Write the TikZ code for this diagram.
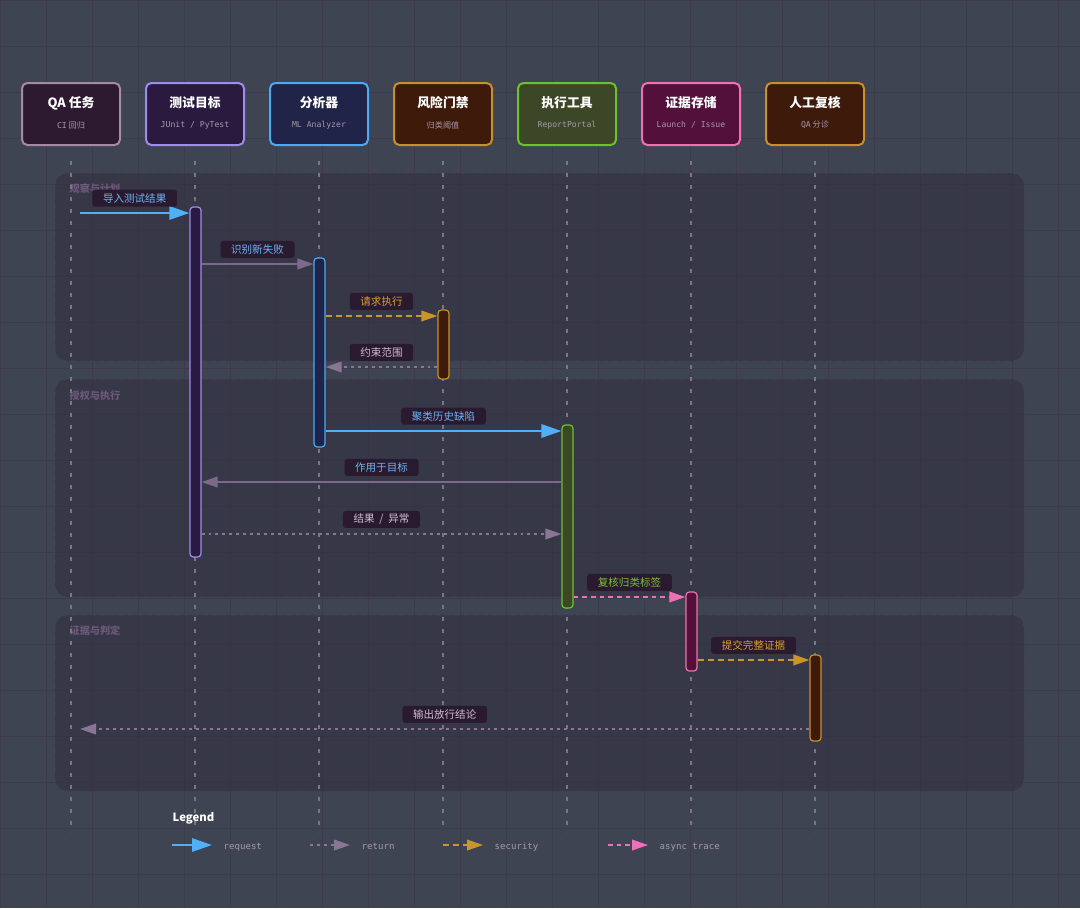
\documentclass[tikz,border=0pt]{standalone}
\usepackage{fontspec}
\setmainfont{Noto Sans CJK SC}
\setmonofont{DejaVu Sans Mono}
\usepackage{xcolor}
\usetikzlibrary{arrows.meta, positioning}

\definecolor{bg}{HTML}{3E4452}
\definecolor{gridc}{HTML}{3B3B4B}
\definecolor{grpfill}{HTML}{2E2A3C}
\definecolor{grpline}{HTML}{5A3D5E}
\definecolor{grptext}{HTML}{6C5878}
\definecolor{lifegray}{HTML}{7A7682}
\definecolor{subgray}{HTML}{A898AB}
\definecolor{lblfill}{HTML}{2A1A30}
% participant colours
\definecolor{qaF}{HTML}{2E1A30}\definecolor{qaD}{HTML}{A58AA8}
\definecolor{tgF}{HTML}{2A1A40}\definecolor{tgD}{HTML}{9F8CF0}
\definecolor{anF}{HTML}{1F2448}\definecolor{anD}{HTML}{4AAAF5}
\definecolor{gtF}{HTML}{3D1A0A}\definecolor{gtD}{HTML}{C8902A}
\definecolor{exF}{HTML}{3C4727}\definecolor{exD}{HTML}{6CC22A}
\definecolor{evF}{HTML}{52103A}\definecolor{evD}{HTML}{F070B0}
\definecolor{rvF}{HTML}{3D1A0A}\definecolor{rvD}{HTML}{C8902A}
% message colours
\definecolor{reqblue}{HTML}{4FB0F5}
\definecolor{callgray}{HTML}{7D6A8A}
\definecolor{secgold}{HTML}{C8962A}
\definecolor{retgray}{HTML}{8A7595}
\definecolor{asyncpink}{HTML}{F070B8}
\definecolor{txblue}{HTML}{6AB6F2}
\definecolor{txgold}{HTML}{D8A030}
\definecolor{txpale}{HTML}{D0BCD4}
\definecolor{txgreen}{HTML}{7AC030}

\begin{document}
\begin{tikzpicture}[
    x=0.75pt, y=-0.75pt,
    actor/.style={line width=1.5pt, rounded corners=4pt,
                  minimum width=73.5pt, minimum height=46.5pt},
    ttl/.style={font=\fontsize{9.6}{11}\selectfont\bfseries, text=white},
    sub/.style={font=\fontsize{6.1}{7}\selectfont, text=subgray},
    life/.style={draw=lifegray, line width=0.8pt, dash pattern=on 3pt off 6pt},
    act/.style={line width=0.9pt, rounded corners=2.5pt, minimum width=8.25pt},
    grp/.style={fill=grpfill, fill opacity=0.45, draw=grpline, draw opacity=0.7,
                dash pattern=on 4pt off 3pt, rounded corners=9pt},
    glbl/.style={font=\fontsize{7.6}{9}\selectfont\bfseries, text=grptext, anchor=west},
    lbl/.style={fill=lblfill, rounded corners=2pt, font=\fontsize{7.9}{9}\selectfont,
                inner xsep=8pt, inner ysep=0pt, minimum height=12.75pt},
    req/.style={draw=reqblue, line width=1.5pt,
                -{Triangle[length=15pt, width=10pt]}},
    call/.style={draw=callgray, line width=1.1pt,
                 -{Triangle[length=12pt, width=8pt]}},
    sec/.style={draw=secgold, line width=1.1pt, dash pattern=on 4.5pt off 3pt,
                -{Triangle[length=12pt, width=8pt]}},
    ret/.style={draw=retgray, line width=1.1pt, dash pattern=on 2.2pt off 3pt,
                -{Triangle[length=12pt, width=8pt]}},
    asyn/.style={draw=asyncpink, line width=1.1pt, dash pattern=on 3.5pt off 3pt,
                 -{Triangle[length=12pt, width=8pt]}},
    lgtxt/.style={font=\fontsize{6.8}{8}\selectfont\ttfamily, text=subgray,
                  anchor=base west}
  ]
  \useasboundingbox (0,0) rectangle (1080,908);
  % background and grid
  \fill[bg] (0,0) rectangle (1080,908);
  \foreach \gx in {0,46,...,1080} {
    \draw[gridc, line width=0.6pt] (\gx,0) -- (\gx,908);
  }
  \foreach \gy in {0,46,...,908} {
    \draw[gridc, line width=0.6pt] (0,\gy) -- (1080,\gy);
  }

  % groups
  \draw[grp] (55,173) rectangle (1024,361);
  \draw[grp] (55,379) rectangle (1024,597);
  \draw[grp] (55,615) rectangle (1024,791);
  \node[glbl] (g1) at (65,189) {观察与计划};
  \node[glbl] (g2) at (65,396) {授权与执行};
  \node[glbl] (g3) at (65,631) {证据与判定};

  % participants
  \foreach \i/\c/\ttx/\st in {1/qa/QA 任务/{\texttt{CI} 回归},
      2/tg/测试目标/{\texttt{JUnit / PyTest}},
      3/an/分析器/{\texttt{ML Analyzer}},
      4/gt/风险门禁/{归类阈值},
      5/ex/执行工具/{\texttt{ReportPortal}},
      6/ev/证据存储/{\texttt{Launch / Issue}},
      7/rv/人工复核/{\texttt{QA} 分诊}} {
    \node[actor, fill=\c F, draw=\c D] (p\i) at ({71+124*(\i-1)},114) {};
    \node[ttl] (t\i) at ({71+124*(\i-1)},103) {\ttx};
    \node[sub] (s\i) at ({71+124*(\i-1)},125) {\st};
    \draw[life] ([yshift=-11.25pt]p\i.south) -- ++(0,672);
  }

  % activations
  \node[act, fill=tgF, draw=tgD, minimum height=262.5pt] (act2) at (195.5,382) {};
  \node[act, fill=anF, draw=anD, minimum height=141.75pt] (act3) at (319.5,352.5) {};
  \node[act, fill=gtF, draw=gtD, minimum height=51.75pt] (act4) at (443.5,344.5) {};
  \node[act, fill=exF, draw=exD, minimum height=137.25pt] (act5) at (567.5,516.5) {};
  \node[act, fill=evF, draw=evD, minimum height=59.25pt] (act6) at (691.5,631.5) {};
  \node[act, fill=rvF, draw=rvD, minimum height=64.5pt] (act7) at (815.5,698) {};

  % messages
  \coordinate (in) at (80,213);
  \coordinate (out) at (80,729);
  \foreach \k/\yy in {2/264, 3/316, 4/367, 5/431, 6/482, 7/534, 8/597, 9/660} {
    \coordinate (y\k) at (0,\yy);
  }
  \draw[req] (in) -- (act2.west |- in)
    node[lbl, midway, above=4pt, text=txblue] (l1) {导入测试结果};
  \draw[call] (act2.east |- y2) -- (act3.west |- y2)
    node[lbl, midway, above=4pt, text=txblue] (l2) {识别新失败};
  \draw[sec] (act3.east |- y3) -- (act4.west |- y3)
    node[lbl, midway, above=4pt, text=txgold] (l3) {请求执行};
  \draw[ret] (act4.west |- y4) -- (act3.east |- y4)
    node[lbl, midway, above=4pt, text=txpale] (l4) {约束范围};
  \draw[req] (act3.east |- y5) -- (act5.west |- y5)
    node[lbl, midway, above=4pt, text=txblue] (l5) {聚类历史缺陷};
  \draw[call] (act5.west |- y6) -- (act2.east |- y6)
    node[lbl, midway, above=4pt, text=txblue] (l6) {作用于目标};
  \draw[ret] (act2.east |- y7) -- (act5.west |- y7)
    node[lbl, midway, above=4pt, text=txpale] (l7) {结果\ \ /\ \ 异常};
  \draw[asyn] (act5.east |- y8) -- (act6.west |- y8)
    node[lbl, midway, above=4pt, text=txgreen] (l8) {复核归类标签};
  \draw[sec] (act6.east |- y9) -- (act7.west |- y9)
    node[lbl, midway, above=4pt, text=txgold] (l9) {提交完整证据};
  \draw[ret] (act7.west |- out) -- (out)
    node[lbl, midway, above=4pt, text=txpale] (l10) {输出放行结论};

  % legend
  \node[font=\fontsize{8.5}{10}\selectfont\bfseries, text=white, anchor=west]
    (lg) at (168,818) {Legend};
  \foreach \k/\st/\xa/\txt in {1/req/172/request, 2/ret/310/return,
      3/sec/443/security, 4/asyn/608/async trace} {
    \coordinate (la\k) at (\xa,845);
    \coordinate (lb\k) at (\xa+40,845);
    \draw[\st] (la\k) -- (lb\k);
    \node[lgtxt] (lt\k) at (\xa+47,849) {\txt};
  }
\end{tikzpicture}
\end{document}
